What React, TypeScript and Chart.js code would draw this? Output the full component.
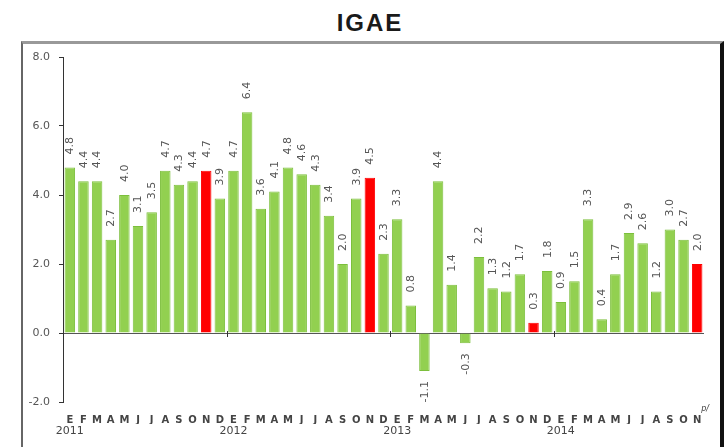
import React, { useEffect, useRef } from 'react';
import { Chart, registerables } from 'chart.js';

Chart.register(...registerables);

// ---- data ----
const monthLetters = ['E', 'F', 'M', 'A', 'M', 'J', 'J', 'A', 'S', 'O', 'N', 'D'];
const years = ['2011', '2012', '2013', '2014'];
const igae = [
  4.8, 4.4, 4.4, 2.7, 4.0, 3.1, 3.5, 4.7, 4.3, 4.4, 4.7,
  3.9, 4.7, 6.4, 3.6, 4.1, 4.8, 4.6, 4.3, 3.4, 2.0, 3.9, 4.5,
  2.3, 3.3, 0.8, -1.1, 4.4, 1.4, -0.3, 2.2, 1.3, 1.2, 1.7, 0.3,
  1.8, 0.9, 1.5, 3.3, 0.4, 1.7, 2.9, 2.6, 1.2, 3.0, 2.7, 2.0,
];
const highlightedIdx = [10, 22, 34, 46];
const yTicks = [-2, 0, 2, 4, 6, 8];
const preliminaryMark = 'p/';
const title = 'IGAE';

const monthLabels = igae.map((_, i) => monthLetters[i % 12]);
const yearLabels = igae.map((_, i) => (i % 12 === 0 ? years[i / 12] : ''));

const GREEN = '#92D050';
const GREEN_EDGE = '#7CBF3C';
const RED = '#FF0000';

const valueLabelsPlugin = {
  id: 'valueLabels',
  afterDatasetsDraw(chart: any) {
    const ctx = chart.ctx;
    const meta = chart.getDatasetMeta(0);
    ctx.save();
    ctx.font = '11px "DejaVu Sans"';
    ctx.fillStyle = '#555';
    meta.data.forEach((bar: any, i: number) => {
      const v = igae[i];
      const { x, y } = bar.getProps(['x', 'y'], true);
      ctx.save();
      ctx.translate(x + 0.5, v >= 0 ? y - 13 : y + 10);
      ctx.rotate(-Math.PI / 2);
      ctx.textAlign = v >= 0 ? 'left' : 'right';
      ctx.textBaseline = 'middle';
      ctx.fillText(v.toFixed(1), 0, 0);
      ctx.restore();
    });
    ctx.restore();
  },
};

const axisExtrasPlugin = {
  id: 'axisExtras',
  afterDraw(chart: any) {
    const ctx = chart.ctx;
    const xs = chart.scales.x;
    const ys = chart.scales.y;
    const y0 = ys.getPixelForValue(0);
    ctx.save();
    ctx.strokeStyle = '#333';
    ctx.lineWidth = 1;
    for (let k = 12; k < igae.length; k += 12) {
      const px = Math.round((xs.getPixelForValue(k - 1) + xs.getPixelForValue(k)) / 2) + 0.5;
      ctx.beginPath();
      ctx.moveTo(px, y0 - 2);
      ctx.lineTo(px, y0 + 4);
      ctx.stroke();
    }
    // preliminary mark next to last month label
    const lastX = xs.getPixelForValue(igae.length - 1);
    ctx.font = 'italic 8px "DejaVu Sans"';
    ctx.fillStyle = '#444';
    ctx.textAlign = 'left';
    ctx.textBaseline = 'middle';
    ctx.fillText(preliminaryMark, lastX + 4, 409);
    ctx.restore();
  },
};

export default function App() {
  const ref = useRef<HTMLCanvasElement | null>(null);

  useEffect(() => {
    if (!ref.current) return;
    const chart = new Chart(ref.current, {
      type: 'bar',
      data: {
        labels: monthLabels,
        datasets: [
          {
            data: igae,
            backgroundColor: igae.map((_, i) => (highlightedIdx.includes(i) ? RED : GREEN)),
            borderColor: igae.map((_, i) => (highlightedIdx.includes(i) ? RED : GREEN_EDGE)),
            borderWidth: 1,
            categoryPercentage: 1,
            barPercentage: 0.77,
            xAxisID: 'x',
            yAxisID: 'y',
          },
        ],
      },
      options: {
        animation: false,
        responsive: false,
        devicePixelRatio: 1,
        layout: { padding: { left: 0, right: 21, top: 57, bottom: 0 } },
        plugins: {
          legend: { display: false },
          tooltip: { enabled: false },
          title: { display: false },
        },
        scales: {
          x: {
            type: 'category',
            position: 'bottom',
            weight: 1,
            offset: true,
            grid: { display: false, drawTicks: false },
            border: { display: false },
            ticks: {
              autoSkip: false,
              maxRotation: 0,
              minRotation: 0,
              padding: 12,
              color: '#444',
              font: { family: '"DejaVu Sans"', size: 10, weight: 'bold' },
            },
            afterFit(scale: any) {
              scale.height = 22;
            },
          },
          x2: {
            type: 'category',
            position: 'bottom',
            weight: 2,
            labels: yearLabels,
            offset: true,
            grid: { display: false, drawTicks: false },
            border: { display: false },
            ticks: {
              autoSkip: false,
              maxRotation: 0,
              minRotation: 0,
              padding: 1,
              color: '#444',
              font: { family: '"DejaVu Sans"', size: 11 },
            },
            afterFit(scale: any) {
              scale.height = 23;
            },
          },
          y: {
            min: -2,
            max: 8,
            afterBuildTicks(scale: any) {
              scale.ticks = yTicks.map((v) => ({ value: v }));
            },
            grid: {
              drawOnChartArea: true,
              drawTicks: true,
              tickLength: 4,
              tickColor: '#333',
              color: (c: any) => (c.tick && c.tick.value === 0 ? '#555' : 'rgba(0,0,0,0)'),
            },
            border: { display: true, color: '#333', width: 1 },
            ticks: {
              padding: 9,
              color: '#555',
              font: { family: '"DejaVu Sans"', size: 11 },
              callback: (v: any) => Number(v).toFixed(1),
            },
            afterFit(scale: any) {
              scale.width = 63;
            },
          },
        },
      },
      plugins: [valueLabelsPlugin, axisExtrasPlugin],
    });
    return () => chart.destroy();
  }, []);

  return (
    <div style={{ position: 'absolute', left: 0, top: 0, width: 725, height: 447, overflow: 'hidden', background: '#fff' }}>
      <div
        style={{
          position: 'absolute',
          left: 21,
          top: 41,
          width: 697,
          height: 404,
          borderLeft: '2px solid #666',
          borderTop: '3px solid #999',
          borderRight: '4px solid #111',
          borderBottom: '1px solid #ddd',
        }}
      />
      <div
        style={{
          position: 'absolute',
          left: 21,
          width: 698,
          top: 9,
          textAlign: 'center',
          font: 'bold 24px "Liberation Sans", Arial, sans-serif',
          letterSpacing: '2px',
          color: '#1a1a1a',
          lineHeight: '28px',
        }}
      >
        {title}
      </div>
      <canvas
        ref={ref}
        width={725}
        height={447}
        style={{ position: 'absolute', left: 0, top: 0, width: 725, height: 447, display: 'block' }}
      />
    </div>
  );
}
